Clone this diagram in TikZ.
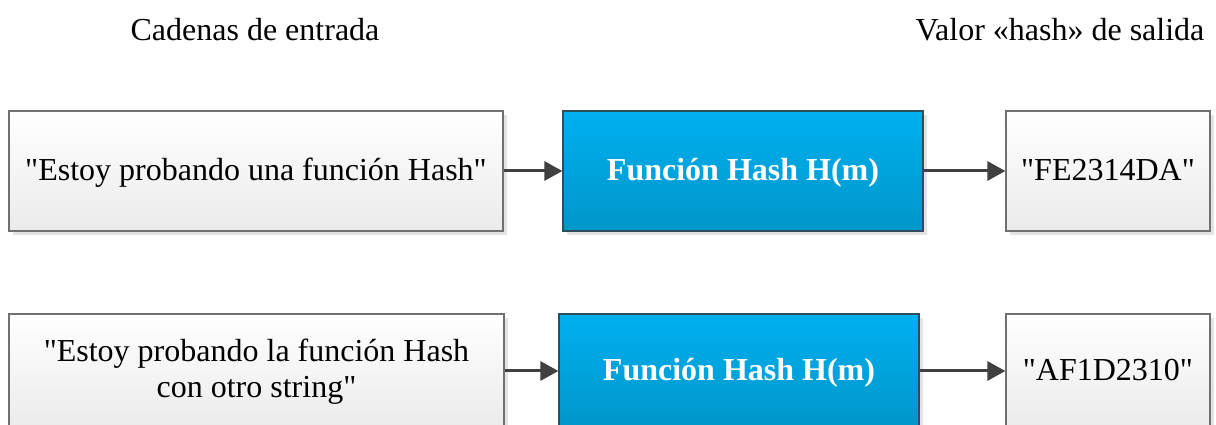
\documentclass[tikz,border=0pt]{standalone}
\usepackage{fontspec}
\setmainfont{Liberation Serif}[Ligatures=TeXOff]
\usetikzlibrary{arrows.meta,shadows}
\definecolor{bordergray}{HTML}{707070}
\definecolor{boxtop}{HTML}{FFFFFF}
\definecolor{boxbot}{HTML}{EBEBEB}
\definecolor{bluetop}{HTML}{00B0F0}
\definecolor{bluebot}{HTML}{0096C9}
\definecolor{blueborder}{HTML}{2E4E5C}
\definecolor{shadowgray}{HTML}{E3E3E3}
\definecolor{arrowgray}{HTML}{404040}
\tikzset{
  base/.style={rectangle, inner sep=0pt, align=center,
    general shadow={shadow xshift=4pt, shadow yshift=-4pt, fill=shadowgray},
    font=\fontsize{32}{36}\selectfont},
  oneline/.style={text height=27pt, text depth=7pt},
  twoline/.style={text height=61pt, text depth=7pt},
  inbox/.style={base, draw=bordergray, line width=1.2pt, top color=boxtop, bottom color=boxbot},
  hashbox/.style={base, oneline, draw=blueborder, line width=1.2pt, top color=bluetop, bottom color=bluebot,
    text=white, font=\fontsize{32}{36}\selectfont\bfseries},
  heading/.style={font=\fontsize{32}{36}\selectfont, inner sep=0pt},
  conn/.style={draw=arrowgray, line width=3pt, -{Triangle[length=18pt,width=19pt]}}
}
\begin{document}
\begin{tikzpicture}[x=1pt,y=1pt]
\useasboundingbox (0,0) rectangle (1216,425);
\clip (0,0) rectangle (1216,425);
% headings
\node[heading] (h1) at (255,395) {Cadenas de entrada};
\node[heading] (h2) at (1060,395) {Valor «hash» de salida};
% top row
\node[inbox, oneline, minimum width=494pt, minimum height=120pt] (a1) at (256,254) {"Estoy probando una función Hash"};
\node[hashbox, minimum width=360pt, minimum height=120pt] (f1) at (743,254) {Función Hash H(m)};
\node[inbox, oneline, minimum width=204pt, minimum height=120pt] (o1) at (1108,254) {"FE2314DA"};
% bottom row
\node[inbox, twoline, minimum width=495pt, minimum height=114pt] (a2) at (256.5,54) {"Estoy probando la función Hash\\con otro string"};
\node[hashbox, minimum width=360pt, minimum height=114pt] (f2) at (739,54) {Función Hash H(m)};
\node[inbox, oneline, minimum width=204pt, minimum height=114pt] (o2) at (1108,54) {"AF1D2310"};
% connectors
\draw[conn] (a1.east) -- (f1.west);
\draw[conn] (f1.east) -- (o1.west);
\draw[conn] (a2.east) -- (f2.west);
\draw[conn] (f2.east) -- (o2.west);
\end{tikzpicture}
\end{document}
